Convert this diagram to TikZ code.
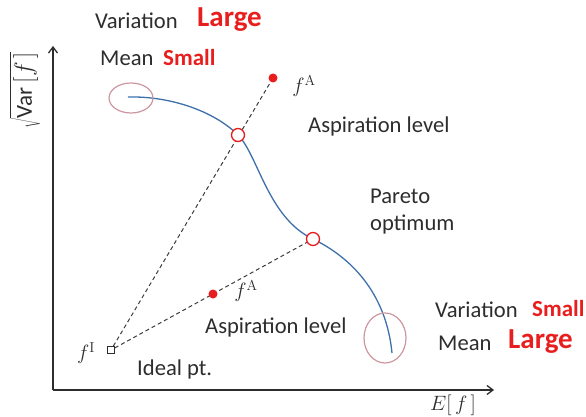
\documentclass[tikz,border=0pt]{standalone}
\usepackage[no-math]{fontspec}
\setmainfont{Carlito}
\usetikzlibrary{positioning, calc, arrows.meta, backgrounds}
\definecolor{paretoblue}{RGB}{62,112,170}
\definecolor{aspred}{RGB}{232,30,30}
\definecolor{ellrose}{RGB}{204,150,160}
\definecolor{guidegray}{RGB}{60,60,60}
\definecolor{inkdark}{RGB}{45,45,45}

\begin{document}
\begin{tikzpicture}[x=1pt, y=-1pt,
  lbl/.style={font=\fontsize{22.6}{25}\selectfont, text=inkdark, inner sep=0, anchor=west},
  hot/.style={font=\fontsize{23}{25}\selectfont\bfseries, text=aspred, inner sep=0, anchor=west},
  hotbig/.style={font=\fontsize{29}{31}\selectfont\bfseries, text=aspred, inner sep=0, anchor=west},
  mathlbl/.style={font=\fontsize{20}{22}\selectfont, text=inkdark, inner sep=0},
  optpt/.style={circle, draw=aspred, fill=white, line width=1.3pt, minimum size=13pt, inner sep=0},
  asppt/.style={circle, fill=aspred, minimum size=9pt, inner sep=0},
  idealpt/.style={rectangle, draw=inkdark, fill=white, line width=0.8pt, minimum size=7pt, inner sep=0},
  guide/.style={guidegray, line width=1pt, dash pattern=on 4pt off 3pt},
  axis/.style={-{Straight Barb[length=6pt, width=9pt]}, line width=1.3pt, inkdark},
  front/.style={paretoblue, line width=1.3pt},
  ring/.style={ellrose, line width=1.2pt}
]
  \useasboundingbox (0,0) rectangle (586,417);

  % axes
  \coordinate (origin) at (53,390);
  \coordinate (ytip) at (53,46);
  \coordinate (xtip) at (494,390);
  \draw[axis] (origin) -- (ytip);
  \draw[axis] (origin) -- (xtip);
  \node[mathlbl, font=\fontsize{23}{25}\selectfont, rotate=90] (ylab) at (25,90) {$\sqrt{\mbox{Var}\,[f\,]}$};
  \node[mathlbl] (xlab) at (453,405) {$E[\,f\,]$};

  % points
  \node[idealpt] (ideal) at (111,350) {};
  \node[optpt] (optA) at (238,135) {};
  \node[optpt] (optB) at (313,239) {};
  \node[asppt] (aspA) at (273,78) {};
  \node[asppt] (aspB) at (213,294) {};
  \coordinate (frontL) at (128,97);
  \coordinate (frontR) at (392,353);

  \node[mathlbl] (fI) at (86,353) {$f^{\mathrm{I}}$};
  \node[mathlbl] (fAup) at (304,86) {$f^{\mathrm{A}}$};
  \node[mathlbl] (fAlow) at (246,291) {$f^{\mathrm{A}}$};

  \begin{scope}[on background layer]
    \draw[front] (frontL) .. controls (172,96) and (215,112) .. (optA.center)
      .. controls (258,155) and (268,218) .. (optB.center)
      .. controls (350,257) and (386,292) .. (frontR);
    \draw[guide] (ideal) -- (aspA);
    \draw[guide] (ideal) -- (optB);
  \end{scope}

  % extreme regions
  \draw[ring] (131,98) ellipse [x radius=22, y radius=15];
  \draw[ring] (385,338) ellipse [x radius=21, y radius=25];

  % texts
  \node[lbl] (varTop) at (95,21) {Variation};
  \node[hotbig] (largeTop) at (197,20) {Large};
  \node[lbl] (meanTop) at (100,58) {Mean};
  \node[hot] (smallTop) at (163,58) {Small};

  \node[lbl] (aspUp) at (308,126) {Aspiration level};
  \node[lbl, align=left] (pareto) at (370,212) {Pareto\\[2pt]optimum};
  \node[lbl] (aspLow) at (205,327) {Aspiration level};
  \node[lbl] (idealTxt) at (137,369) {Ideal pt.};

  \node[lbl] (varBot) at (435,310) {Variation};
  \node[hot] (smallBot) at (532,309) {Small};
  \node[lbl] (meanBot) at (438,343) {Mean};
  \node[hotbig] (largeBot) at (508,342) {Large};
\end{tikzpicture}
\end{document}
